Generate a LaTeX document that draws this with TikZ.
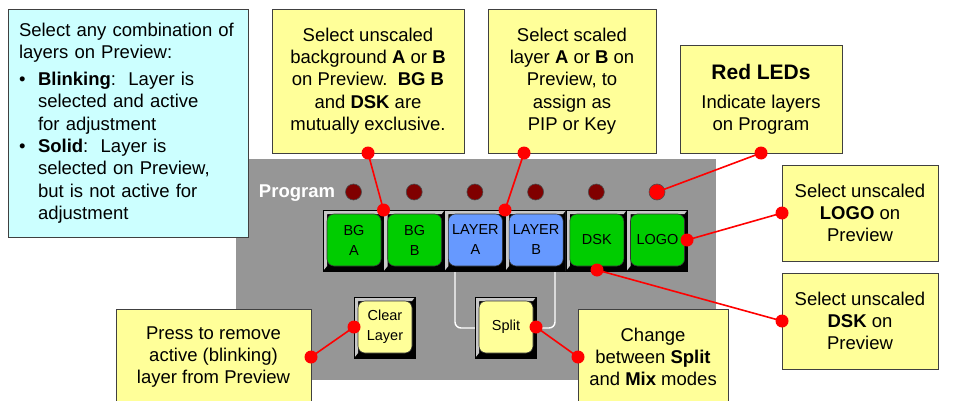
\documentclass[tikz,border=0pt]{standalone}
\usepackage{fontspec}
\setmainfont{Liberation Sans}
\definecolor{panel}{HTML}{969696}
\definecolor{note}{HTML}{FFFF99}
\definecolor{cyannote}{HTML}{CCFFFF}
\definecolor{btngreen}{HTML}{00CC00}
\definecolor{btnblue}{HTML}{6699FF}
\definecolor{btnyellow}{HTML}{FFFF99}
\definecolor{ledoff}{HTML}{800000}
\definecolor{ledon}{HTML}{FF0000}
\definecolor{boxline}{HTML}{404040}
\definecolor{bevel}{HTML}{C8C8C8}
\tikzset{
  notebox/.style={draw=boxline, line width=0.8pt, fill=note, align=center, inner sep=0pt,
    font=\fontsize{18.5}{22.3}\selectfont},
  cnote/.style={draw=boxline, line width=0.8pt, fill=cyannote, inner ysep=0pt,
    font=\fontsize{18.5}{22.3}\selectfont},
  ledlamp/.style={circle, draw=black!70, line width=0.6pt, minimum size=16, inner sep=0pt},
  btnface/.style={draw=black!80, line width=0.6pt, rounded corners=7, minimum width=54,
    minimum height=52, inner sep=0pt, align=center, font=\fontsize{14.5}{20}\selectfont},
  callout/.style={draw=red, line width=1.6pt},
  slink/.style={draw=white, line width=1.4pt, rounded corners=6},
}
\newcommand\swbtn[5]{%
  \fill[black] (#2-30.5,#3-30.5) rectangle (#2+30.5,#3+30.5);
  \fill[bevel] (#2-30.5,#3-30.5) -- (#2+30.5,#3-30.5) -- (#2+27.5,#3-26.5)
     -- (#2-26.5,#3-26.5) -- (#2-26.5,#3+25.5) -- (#2-30.5,#3+30.5) -- cycle;
  \draw[black, line width=0.5pt] (#2-30.5,#3-30.5) rectangle (#2+30.5,#3+30.5);
  \node[btnface, fill=#4] (#1) at (#2+0.5,#3-0.5) {#5};
}
\begin{document}
\begin{tikzpicture}[x=1pt,y=-1pt]
\useasboundingbox (0,0) rectangle (976,401);
\clip (0,0) rectangle (976,401);
\fill[white] (0,0) rectangle (976,401);
% panel
\fill[panel] (236,159) rectangle (716,380);
\node[font=\fontsize{18.5}{22}\selectfont\bfseries, text=white, anchor=base] (prog) at (297,197.5) {Program};
% LEDs
\node[ledlamp, fill=ledoff] (l1) at (353.5,192) {};
\node[ledlamp, fill=ledoff] (l2) at (414.2,192) {};
\node[ledlamp, fill=ledoff] (l3) at (474.9,192) {};
\node[ledlamp, fill=ledoff] (l4) at (535.6,192) {};
\node[ledlamp, fill=ledoff] (l5) at (596.3,192) {};
\node[ledlamp, fill=ledon] (l6) at (657,192) {};
% split links
\draw[slink] (455,271) -- (455,328) -- (475,328);
\draw[slink] (555,271) -- (555,328) -- (536,328);
% buttons
\swbtn{bga}{353.5}{240.5}{btngreen}{BG\\A}
\swbtn{bgb}{414.2}{240.5}{btngreen}{BG\\B}
\swbtn{laa}{474.9}{240.5}{btnblue}{LAYER\\A}
\swbtn{lab}{535.6}{240.5}{btnblue}{LAYER\\B}
\swbtn{dsk}{596.3}{240.5}{btngreen}{DSK}
\swbtn{logo}{657}{240.5}{btngreen}{LOGO}
\swbtn{clr}{384.5}{327.5}{btnyellow}{Clear\\Layer}
\swbtn{spl}{505.5}{327.5}{btnyellow}{Split}
% notes
\node[cnote, text width=218, minimum width=240, minimum height=228, align=left, inner xsep=11] (cy) at (128,123)
 {Select any combination of\\layers on Preview:\\[5pt]
  \makebox[19pt][l]{•}\textbf{Blinking}:\ \ Layer is\\
  \hspace*{19pt}selected and active\\
  \hspace*{19pt}for adjustment\\
  \makebox[19pt][l]{•}\textbf{Solid}:\ \ Layer is\\
  \hspace*{19pt}selected on Preview,\\
  \hspace*{19pt}but is not active for\\
  \hspace*{19pt}adjustment};
\node[notebox, minimum width=192, minimum height=144] (nbg) at (368,81)
 {Select unscaled\\background \textbf{A} or \textbf{B}\\on Preview.\ \ \textbf{BG B}\\and \textbf{DSK} are\\mutually exclusive.};
\node[notebox, minimum width=168, minimum height=144] (nlay) at (572,81)
 {Select scaled\\layer \textbf{A} or \textbf{B} on\\Preview, to\\assign as\\PIP or Key};
\node[notebox, minimum width=162, minimum height=108] (nled) at (761,99)
 {{\fontsize{21}{25}\selectfont\bfseries Red LEDs}\\[6.7pt]Indicate layers\\on Program};
\node[notebox, minimum width=156, minimum height=96] (nlogo) at (860,213)
 {Select unscaled\\\textbf{LOGO} on\\Preview};
\node[notebox, minimum width=156, minimum height=96] (ndsk) at (860,321)
 {Select unscaled\\\textbf{DSK} on\\Preview};
\node[notebox, minimum width=150, minimum height=96] (nchg) at (653,357)
 {Change\\between \textbf{Split}\\and \textbf{Mix} modes};
\node[notebox, minimum width=195, minimum height=96] (npress) at (213.5,357)
 {Press to remove\\active (blinking)\\layer from Preview};
% connector end points
\coordinate (a1) at (368,153);   \coordinate (b1) at (383.5,210);
\coordinate (a2) at (524,153);   \coordinate (b2) at (505,210);
\coordinate (a3) at (761,153);   \coordinate (b3) at (657,192);
\coordinate (a4) at (782,213);   \coordinate (b4) at (687,240);
\coordinate (a5) at (782,321);   \coordinate (b5) at (597,270);
\coordinate (a6) at (311,357);   \coordinate (b6) at (354,327);
\coordinate (a7) at (578,357);   \coordinate (b7) at (536,327);
\foreach \i in {1,...,7} {
  \draw[callout] (a\i) -- (b\i);
  \fill[red] (a\i) circle (6.5);
  \fill[red] (b\i) circle (6.5);
}
\end{tikzpicture}
\end{document}
